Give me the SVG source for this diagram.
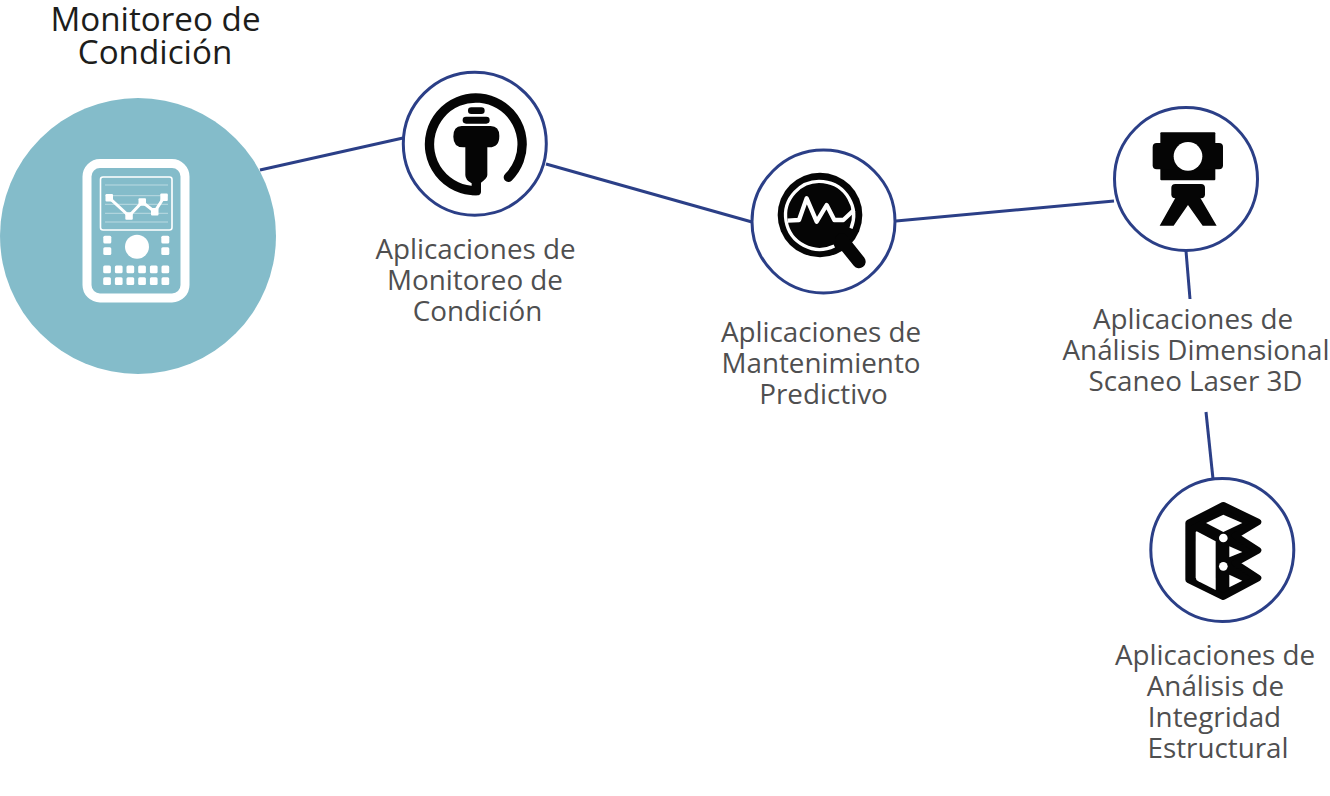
<svg xmlns="http://www.w3.org/2000/svg" width="1330" height="796" viewBox="0 0 1330 796">
<style>
text{font-family:"Open Sans","Noto Sans","Liberation Sans",sans-serif;text-anchor:middle}
.lab{font-size:27.800px;fill:#4f4f50}
.tit{font-size:33.200px;fill:#1d1d1b}
.ring{fill:#fff;stroke:#2b3f87;stroke-width:3}
.k{fill:#050505}
.w{fill:#fff}
.conn{stroke:#2b3f87;stroke-width:3;fill:none}
</style>
<rect width="1330" height="796" fill="#fff"/>
<g id="connectors" class="conn">
<line x1="260" y1="170" x2="403" y2="138"/>
<line x1="546" y1="164" x2="752" y2="222"/>
<line x1="896" y1="221" x2="1114" y2="201"/>
<line x1="1186" y1="251" x2="1190" y2="299"/>
<line x1="1206" y1="412" x2="1213" y2="479"/>
</g>
<g id="node-monitoreo">
<circle cx="138" cy="236" r="138" fill="#84bcca"/>
<rect x="87" y="163.500" width="98" height="134.500" rx="13" fill="none" stroke="#fff" stroke-width="9"/>
<rect x="100.500" y="177" width="71.500" height="53" rx="2.500" fill="none" stroke="#fff" stroke-width="1.600"/>
<g stroke="#fff" stroke-opacity=".45" stroke-width="1">
<line x1="105" y1="185" x2="168" y2="185"/>
<line x1="105" y1="195.700" x2="168" y2="195.700"/>
<line x1="105" y1="204.300" x2="168" y2="204.300"/>
<line x1="105" y1="213.300" x2="168" y2="213.300"/>
<line x1="105" y1="222" x2="168" y2="222"/>
</g>
<polyline points="109,197.700 129,216 142.300,202 154.700,211.700 164,197.300" fill="none" stroke="#fff" stroke-width="3"/>
<g class="w">
<rect x="105.500" y="194" width="7.500" height="7.500" rx="1"/><rect x="125.300" y="212.300" width="7.500" height="7.500" rx="1"/><rect x="138.500" y="198.300" width="7.500" height="7.500" rx="1"/><rect x="151" y="208" width="7.500" height="7.500" rx="1"/><rect x="160.300" y="193.600" width="7.500" height="7.500" rx="1"/>
<circle cx="137" cy="246.700" r="12"/>
<rect x="103.300" y="235.700" width="8" height="7.700" rx="1.500"/><rect x="103.300" y="247.300" width="8" height="7.700" rx="1.500"/>
<rect x="161.300" y="235.700" width="8" height="7.700" rx="1.500"/><rect x="161.300" y="247.300" width="8" height="7.700" rx="1.500"/>
<rect x="103.200" y="265.500" width="7.700" height="7.700" rx="1.500"/><rect x="114.900" y="265.500" width="7.700" height="7.700" rx="1.500"/><rect x="126.500" y="265.500" width="7.700" height="7.700" rx="1.500"/><rect x="138.200" y="265.500" width="7.700" height="7.700" rx="1.500"/><rect x="149.900" y="265.500" width="7.700" height="7.700" rx="1.500"/><rect x="161.500" y="265.500" width="7.700" height="7.700" rx="1.500"/>
<rect x="103.200" y="277.200" width="7.700" height="7.700" rx="1.500"/><rect x="114.900" y="277.200" width="7.700" height="7.700" rx="1.500"/><rect x="126.500" y="277.200" width="7.700" height="7.700" rx="1.500"/><rect x="138.200" y="277.200" width="7.700" height="7.700" rx="1.500"/><rect x="149.900" y="277.200" width="7.700" height="7.700" rx="1.500"/><rect x="161.500" y="277.200" width="7.700" height="7.700" rx="1.500"/>
</g>
<text class="tit" x="155.500" y="31">Monitoreo de</text>
<text class="tit" x="155" y="63.500">Condición</text>
</g>
<g id="node-aplicaciones-monitoreo">
<circle class="ring" cx="474.800" cy="143.700" r="71.500"/>
<g transform="translate(400 70) scale(.3333)">
<path d="M228 362A139 139 0 1 1 325 322" fill="none" stroke="#050505" stroke-width="28" stroke-linecap="round"/>
<rect class="k" x="204" y="112" width="50" height="20" rx="10"/>
<rect class="k" x="188" y="140" width="81" height="21" rx="10"/>
<path class="k" d="M185 168H272Q298 168 298 198Q298 232 268 232H262V315Q262 325 243 338V365Q243 376 230 376H215V340Q196 330 196 315V232H190Q160 232 160 200Q160 168 185 168Z"/>
</g>
<text class="lab" x="475.500" y="259">Aplicaciones de</text>
<text class="lab" x="475" y="290">Monitoreo de</text>
<text class="lab" x="477.500" y="321">Condición</text>
</g>
<g id="node-mantenimiento">
<circle class="ring" cx="823.500" cy="221.500" r="71.500"/>
<g transform="translate(775 170) scale(.3333)">
<circle class="k" cx="135" cy="135" r="127"/>
<line x1="200" y1="210" x2="252" y2="275" stroke="#050505" stroke-width="40" stroke-linecap="round"/>
<path d="M178 228A102 102 0 1 1 228 175" fill="none" stroke="#fff" stroke-width="10"/>
<polyline points="38,152 72,150 95,85 125,155 155,105 178,150 205,150 237,120" fill="none" stroke="#fff" stroke-width="13" stroke-linejoin="round"/>
</g>
<text class="lab" x="821" y="342">Aplicaciones de</text>
<text class="lab" x="821" y="373">Mantenimiento</text>
<text class="lab" x="823.500" y="404">Predictivo</text>
</g>
<g id="node-analisis-dimensional">
<circle class="ring" cx="1186" cy="179" r="71.500"/>
<g transform="translate(1112 105) scale(.3333)">
<rect class="k" x="145" y="82" width="165" height="144" rx="3"/>
<rect class="k" x="122" y="114" width="211" height="79" rx="12"/>
<circle class="w" cx="228" cy="154" r="43"/>
<rect class="k" x="178" y="237" width="101" height="43" rx="12"/>
<path class="k" d="M195 270L143 362H185L228 300L272 362H314L260 270Z"/>
</g>
<text class="lab" x="1193" y="329">Aplicaciones de</text>
<text class="lab" x="1196" y="360">Análisis Dimensional</text>
<text class="lab" x="1195.500" y="391">Scaneo Laser 3D</text>
</g>
<g id="node-integridad">
<circle class="ring" cx="1222.300" cy="550" r="71.500"/>
<g transform="translate(1180 498) scale(.3333)">
<path d="M130 22L234 72L165 113L234 157L165 195L234 240L130 296L26 245V75Z" fill="#050505" stroke="#050505" stroke-width="20" stroke-linejoin="round"/>
<path class="w" d="M78 75L130 50L187 75L130 102Z"/>
<path class="w" d="M50 100L107 130V276L55 250Q47 246 47 238V102Z"/>
<path class="w" d="M148 145L187 162L148 178Z"/>
<path class="w" d="M148 230L187 248L148 268Z"/>
<circle class="w" cx="130" cy="120" r="13"/>
<circle class="w" cx="130" cy="205" r="13"/>
</g>
<text class="lab" x="1215" y="665">Aplicaciones de</text>
<text class="lab" x="1215.500" y="696">Análisis de</text>
<text class="lab" x="1214.500" y="727">Integridad</text>
<text class="lab" x="1218" y="758">Estructural</text>
</g>
</svg>
